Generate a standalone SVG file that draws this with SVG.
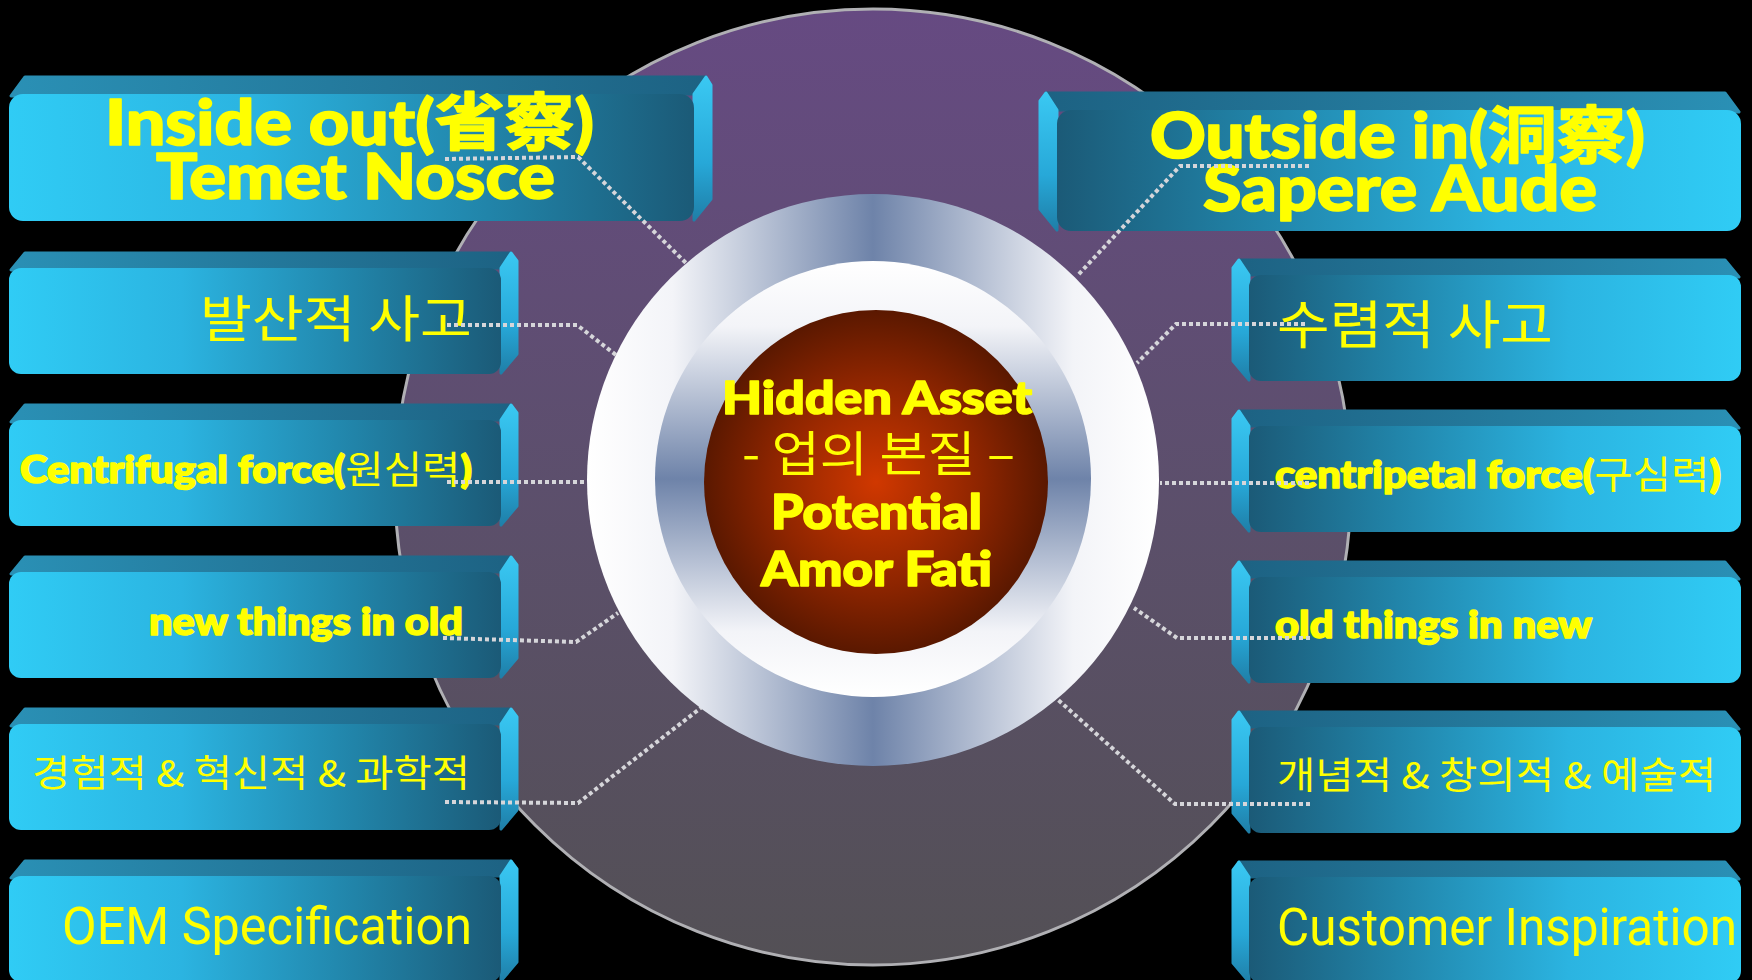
<svg xmlns="http://www.w3.org/2000/svg" xmlns:xlink="http://www.w3.org/1999/xlink" width="1752" height="980" viewBox="0 0 1752 980">
<style>
.y{fill:#ffff00;}
.b{font-family:Lato,'Noto Sans CJK KR',sans-serif;font-weight:900;stroke:#ffff00;stroke-width:1.6;stroke-linejoin:round;}
.k{font-family:'Noto Sans CJK KR',sans-serif;font-weight:400;stroke:none;}
.n{font-family:'Liberation Sans Narrow','Roboto','Noto Sans',sans-serif;font-weight:400;}
.conn{fill:none;stroke:#d6d6da;stroke-width:4;stroke-dasharray:4 3;}
.tl{fill:url(#tL);stroke:url(#tL);stroke-width:3;stroke-linejoin:round;}
.tr{fill:url(#tR);stroke:url(#tR);stroke-width:3;stroke-linejoin:round;}
.sd{fill:url(#sd);stroke:url(#sd);stroke-width:3;stroke-linejoin:round;}
</style>
<defs>
<linearGradient id="bg" x1="0" y1="0" x2="0" y2="1">
<stop offset="0" stop-color="#664a82"/>
<stop offset="0.5" stop-color="#5c4f6c"/>
<stop offset="1" stop-color="#535055"/>
</linearGradient>
<linearGradient id="gL" x1="0" y1="0" x2="1" y2="0">
<stop offset="0" stop-color="#30ccf5"/>
<stop offset="0.35" stop-color="#2bb4e1"/>
<stop offset="0.7" stop-color="#2184a9"/>
<stop offset="1" stop-color="#1b5a77"/>
</linearGradient>
<linearGradient id="gR" x1="1" y1="0" x2="0" y2="0">
<stop offset="0" stop-color="#30ccf5"/>
<stop offset="0.35" stop-color="#2bb4e1"/>
<stop offset="0.7" stop-color="#2184a9"/>
<stop offset="1" stop-color="#1b5a77"/>
</linearGradient>
<linearGradient id="tL" x1="0" y1="0" x2="1" y2="0">
<stop offset="0" stop-color="#2a90b5"/>
<stop offset="1" stop-color="#1d6283"/>
</linearGradient>
<linearGradient id="tR" x1="1" y1="0" x2="0" y2="0">
<stop offset="0" stop-color="#2a90b5"/>
<stop offset="1" stop-color="#1d6283"/>
</linearGradient>
<linearGradient id="sd" x1="0" y1="0" x2="0" y2="1">
<stop offset="0" stop-color="#3ac8f2"/>
<stop offset="0.6" stop-color="#27a8d8"/>
<stop offset="1" stop-color="#1f7fa8"/>
</linearGradient>
<linearGradient id="ringH" x1="0" y1="0" x2="1" y2="0">
<stop offset="0" stop-color="#ffffff"/>
<stop offset="0.15" stop-color="#f3f4f8"/>
<stop offset="0.5" stop-color="#6e83a9"/>
<stop offset="0.85" stop-color="#f3f4f8"/>
<stop offset="1" stop-color="#ffffff"/>
</linearGradient>
<linearGradient id="ringV" x1="0" y1="0" x2="0" y2="1">
<stop offset="0" stop-color="#ffffff"/>
<stop offset="0.15" stop-color="#f3f4f8"/>
<stop offset="0.5" stop-color="#6e83a9"/>
<stop offset="0.85" stop-color="#f3f4f8"/>
<stop offset="1" stop-color="#ffffff"/>
</linearGradient>
<radialGradient id="core" cx="0.5" cy="0.5" r="0.5">
<stop offset="0" stop-color="#d03800"/>
<stop offset="0.6" stop-color="#8e2500"/>
<stop offset="1" stop-color="#5a1800"/>
</radialGradient>
<g id="lbox">
<polygon class="tl" points="2,18 16,1 502,1 492,16"/>
<polygon class="sd" points="492,16 502,1 508,9 508,102 492,121"/>
<rect x="0" y="16" width="492" height="106" rx="12" fill="url(#gL)"/>
</g>
<g id="rbox">
<polygon class="tr" points="18,16 8,1 494,1 508,18"/>
<polygon class="sd" points="18,16 8,1 2,9 2,102 18,121"/>
<rect x="18" y="16" width="492" height="106" rx="12" fill="url(#gR)"/>
</g>
</defs>
<rect x="0" y="0" width="1752" height="980" fill="#000000"/>
<g id="backdrop">
<circle cx="873" cy="487" r="478" fill="url(#bg)" stroke="#b0b0b4" stroke-width="3"/>
</g>
<g id="node-inside-out">
<polygon class="tl" points="11,96 25,77 706,77 694,94"/>
<polygon class="sd" points="694,94 706,77 711,85 711,199 694,220"/>
<rect x="9" y="94" width="685" height="127" rx="14" fill="url(#gL)"/>
<text class="y b" x="105" y="145" font-size="62" textLength="489" lengthAdjust="spacingAndGlyphs">Inside out(<tspan font-weight="700">省察</tspan>)</text>
<text class="y b" x="156" y="199" font-size="62" textLength="399" lengthAdjust="spacingAndGlyphs">Temet Nosce</text>
</g>
<g id="node-divergent">
<use xlink:href="#lbox" x="9" y="252"/>
<text class="y k" x="200" y="337" font-size="50" textLength="272" lengthAdjust="spacingAndGlyphs">발산적 사고</text>
</g>
<g id="node-centrifugal">
<use xlink:href="#lbox" x="9" y="404"/>
<text class="y b" x="20" y="483" font-size="38" textLength="452" lengthAdjust="spacingAndGlyphs">Centrifugal force(<tspan class="k">원심력</tspan>)</text>
</g>
<g id="node-new-in-old">
<use xlink:href="#lbox" x="9" y="556"/>
<text class="y b" x="149" y="635" font-size="38" textLength="314" lengthAdjust="spacingAndGlyphs">new things in old</text>
</g>
<g id="node-empirical">
<use xlink:href="#lbox" x="9" y="708"/>
<text class="y k" x="32" y="787" font-size="37" textLength="438" lengthAdjust="spacingAndGlyphs">경험적 &amp; 혁신적 &amp; 과학적</text>
</g>
<g id="node-oem">
<use xlink:href="#lbox" x="9" y="860"/>
<text class="y n" x="62" y="944" font-size="51" textLength="410" lengthAdjust="spacingAndGlyphs">OEM Specification</text>
</g>
<g id="node-outside-in">
<polygon class="tr" points="1057,110 1046,93 1725,93 1739,112"/>
<polygon class="sd" points="1057,110 1046,93 1040,101 1040,209 1057,230"/>
<rect x="1057" y="110" width="684" height="121" rx="14" fill="url(#gR)"/>
<text class="y b" x="1150" y="158" font-size="62" textLength="495" lengthAdjust="spacingAndGlyphs">Outside in(<tspan font-weight="700">洞察</tspan>)</text>
<text class="y b" x="1203" y="211" font-size="62" textLength="394" lengthAdjust="spacingAndGlyphs">Sapere Aude</text>
</g>
<g id="node-convergent">
<use xlink:href="#rbox" x="1231" y="259"/>
<text class="y k" x="1277" y="344" font-size="52" textLength="276" lengthAdjust="spacingAndGlyphs">수렴적 사고</text>
</g>
<g id="node-centripetal">
<use xlink:href="#rbox" x="1231" y="410"/>
<text class="y b" x="1275" y="488" font-size="38" textLength="446" lengthAdjust="spacingAndGlyphs">centripetal force(<tspan class="k">구심력</tspan>)</text>
</g>
<g id="node-old-in-new">
<use xlink:href="#rbox" x="1231" y="561"/>
<text class="y b" x="1275" y="638" font-size="38" textLength="317" lengthAdjust="spacingAndGlyphs">old things in new</text>
</g>
<g id="node-conceptual">
<use xlink:href="#rbox" x="1231" y="711"/>
<text class="y k" x="1277" y="789" font-size="37" textLength="439" lengthAdjust="spacingAndGlyphs">개념적 &amp; 창의적 &amp; 예술적</text>
</g>
<g id="node-customer">
<use xlink:href="#rbox" x="1231" y="861"/>
<text class="y n" x="1277" y="945" font-size="51" textLength="460" lengthAdjust="spacingAndGlyphs">Customer Inspiration</text>
</g>
<g id="connectors">
<polyline class="conn" points="445,159 578,157 687,264"/>
<polyline class="conn" points="447,325 577,325 616,355"/>
<polyline class="conn" points="447,482 587,482"/>
<polyline class="conn" points="443,638 576,642 618,613"/>
<polyline class="conn" points="445,802 578,803 702,707"/>
<polyline class="conn" points="1309,166 1180,166 1078,275"/>
<polyline class="conn" points="1305,324 1176,324 1137,363"/>
<polyline class="conn" points="1309,483 1160,483"/>
<polyline class="conn" points="1310,638 1177,638 1134,608"/>
<polyline class="conn" points="1310,804 1175,804 1056,698"/>
</g>
<g id="node-core">
<circle cx="873" cy="480" r="286" fill="url(#ringH)"/>
<circle cx="873" cy="479" r="218" fill="url(#ringV)"/>
<circle cx="876" cy="482" r="172" fill="url(#core)"/>
<text class="y b" x="722" y="414" font-size="46" textLength="310" lengthAdjust="spacingAndGlyphs">Hidden Asset</text>
<text class="y k" x="742" y="471" font-size="48" textLength="273" lengthAdjust="spacingAndGlyphs">- 업의 본질 –</text>
<text class="y b" x="771" y="529" font-size="48" textLength="211" lengthAdjust="spacingAndGlyphs">Potential</text>
<text class="y b" x="761" y="586" font-size="48" textLength="231" lengthAdjust="spacingAndGlyphs">Amor Fati</text>
</g>
</svg>
